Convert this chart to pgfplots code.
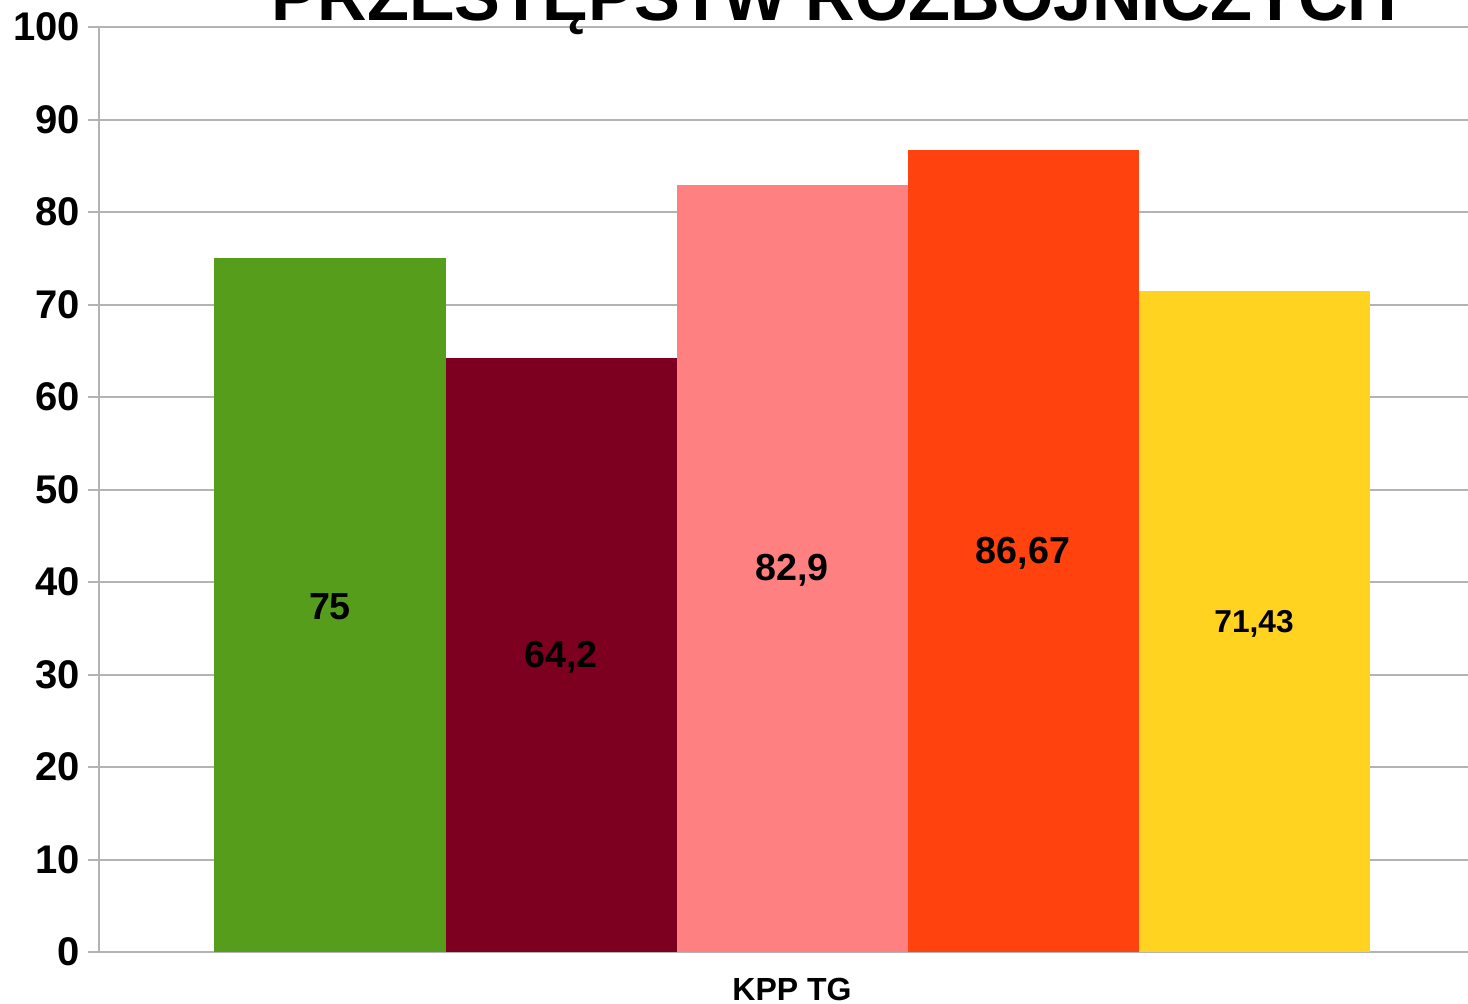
\documentclass[border=0pt]{standalone}
\usepackage{fontspec}
\setmainfont{Liberation Sans}
\usepackage{pgfplots}
\pgfplotsset{compat=1.18}
\definecolor{cgreen}{HTML}{579D1C}
\definecolor{cmaroon}{HTML}{7E0021}
\definecolor{cpink}{HTML}{FF8080}
\definecolor{corange}{HTML}{FF420E}
\definecolor{cyellow}{HTML}{FFD320}
\definecolor{gridgray}{HTML}{B3B3B3}
\begin{document}
\begin{tikzpicture}
\begin{axis}[
  at={(0,0)}, anchor=south west,
  scale only axis,
  width=410.7pt, height=277.5pt,
  ybar=0pt, bar width=69.3pt,
  xmin=-3, xmax=2.9264,
  ymin=0, ymax=100,
  ytick={0,10,...,100},
  xtick={0}, xticklabels={KPP TG},
  extra x ticks={-3}, extra x tick labels={},
  extra x tick style={major tick style={gridgray, line width=0.6pt}},
  axis x line*=bottom, axis y line*=left,
  axis line style={gridgray, line width=0.6pt},
  ymajorgrids, grid style={gridgray, line width=0.6pt},
  major y tick style={gridgray, line width=0.6pt},
  major x tick style={draw=none},
  tick align=outside, major tick length=3.3pt,
  /pgf/number format/assume math mode=true,
  yticklabel style={font=\bfseries\fontsize{12}{13}\selectfont, xshift=1.1pt},
  xticklabel style={font=\bfseries\fontsize{9.6}{11}\selectfont, yshift=-1pt},
  title={PRZESTĘPSTW ROZBÓJNICZYCH},
  title style={at={(0.5373,0.9849)}, anchor=base, font=\bfseries\fontsize{20.6}{24}\selectfont},
  nodes near coords,
  point meta=explicit symbolic,
  visualization depends on={rawy \as \ry},
  every node near coord/.append style={anchor=center, yshift=-\ry*1.3875pt-0.6pt, font=\bfseries\fontsize{11.3}{13}\selectfont, text=black},
]
\addplot[fill=cgreen, draw=none] coordinates {(0,75) [75]};
\addplot[fill=cmaroon, draw=none] coordinates {(0,64.2) [64,2]};
\addplot[fill=cpink, draw=none] coordinates {(0,82.9) [82,9]};
\addplot[fill=corange, draw=none] coordinates {(0,86.67) [86,67]};
\addplot[fill=cyellow, draw=none, every node near coord/.append style={font=\bfseries\fontsize{9.5}{11}\selectfont}] coordinates {(0,71.43) [71,43]};
\end{axis}
\pgfresetboundingbox
\useasboundingbox (-29.7pt,-15.3pt) rectangle (410.7pt,285.6pt);
\end{tikzpicture}
\end{document}
